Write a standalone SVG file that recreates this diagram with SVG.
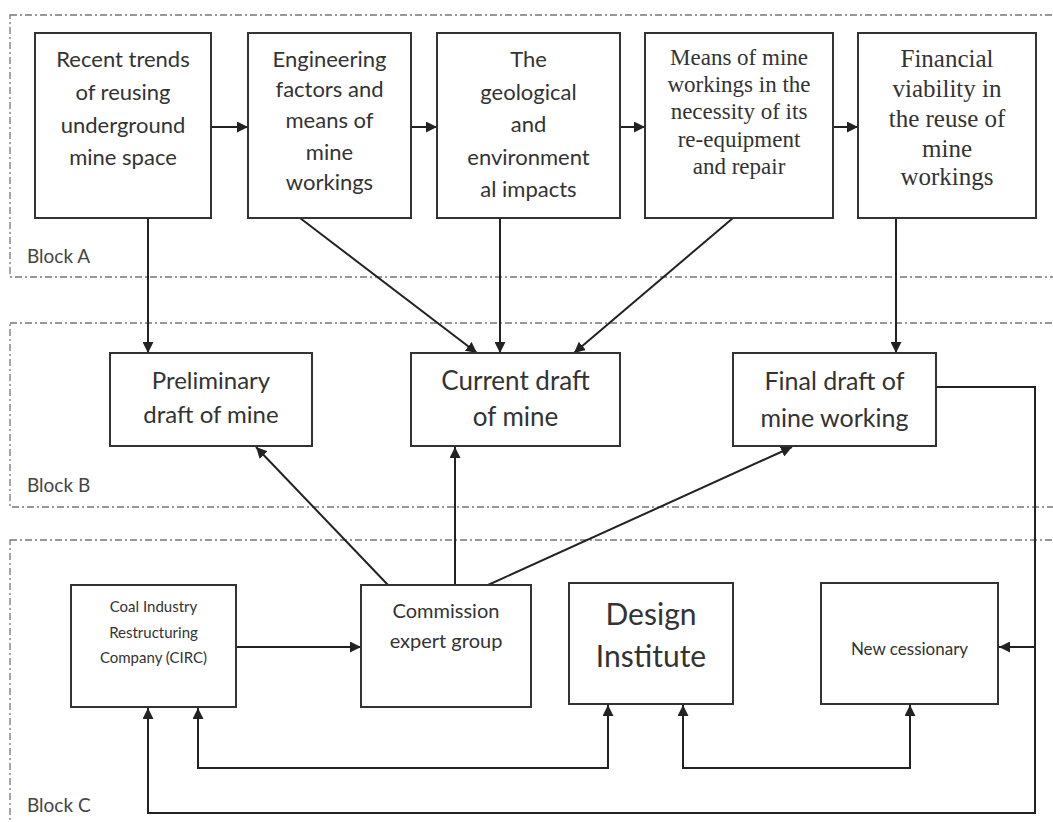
<svg xmlns="http://www.w3.org/2000/svg" width="1053" height="822" viewBox="0 0 1053 822">
<style>
.blk{fill:none;stroke:#777;stroke-width:1.3;stroke-dasharray:7 3 2 3}
.box{fill:#fff;stroke:#333;stroke-width:2}
.ln{fill:none;stroke:#222;stroke-width:2}
.s{font-family:Lato,"Liberation Sans",sans-serif;fill:#333;text-anchor:middle}
.r{font-family:"Liberation Serif",serif;fill:#333;text-anchor:middle}
.lab{font-family:Lato,"Liberation Sans",sans-serif;fill:#444;font-size:19px}
</style>
<defs>
<marker id="ah" viewBox="0 0 10 10" refX="10" refY="5" markerWidth="11" markerHeight="11" markerUnits="userSpaceOnUse" orient="auto">
<path d="M0,0 L10,5 L0,10 z" fill="#222"/>
</marker>
</defs>
<g id="blocks">
<rect class="blk" x="10" y="15" width="1060" height="262"/>
<text class="lab" x="27" y="263">Block A</text>
<rect class="blk" x="10" y="323" width="1060" height="184"/>
<text class="lab" x="27" y="492">Block B</text>
<rect class="blk" x="10" y="540" width="1060" height="300"/>
<text class="lab" x="27" y="812">Block C</text>
</g>
<g id="connectors">
<line class="ln" x1="212" y1="127" x2="248" y2="127" marker-end="url(#ah)"/>
<line class="ln" x1="411" y1="127" x2="437" y2="127" marker-end="url(#ah)"/>
<line class="ln" x1="620" y1="127" x2="645" y2="127" marker-end="url(#ah)"/>
<line class="ln" x1="833" y1="127" x2="858" y2="127" marker-end="url(#ah)"/>
<line class="ln" x1="148" y1="218" x2="148" y2="353" marker-end="url(#ah)"/>
<line class="ln" x1="300" y1="218" x2="477" y2="353" marker-end="url(#ah)"/>
<line class="ln" x1="500" y1="218" x2="500" y2="353" marker-end="url(#ah)"/>
<line class="ln" x1="733" y1="218" x2="574" y2="353" marker-end="url(#ah)"/>
<line class="ln" x1="896" y1="218" x2="896" y2="353" marker-end="url(#ah)"/>
<line class="ln" x1="388" y1="585" x2="256" y2="447" marker-end="url(#ah)"/>
<line class="ln" x1="455" y1="585" x2="455" y2="447" marker-end="url(#ah)"/>
<line class="ln" x1="488" y1="585" x2="792" y2="447" marker-end="url(#ah)"/>
<line class="ln" x1="236" y1="647" x2="361" y2="647" marker-end="url(#ah)"/>
<polyline class="ln" points="936,387 1035,387 1035,813 148,813 148,708" marker-end="url(#ah)"/>
<line class="ln" x1="1035" y1="647" x2="999" y2="647" marker-end="url(#ah)"/>
<polyline class="ln" points="608,768 198,768 198,708" marker-end="url(#ah)"/>
<polyline class="ln" points="198,768 608,768 608,705" marker-end="url(#ah)"/>
<polyline class="ln" points="910,768 683,768 683,705" marker-end="url(#ah)"/>
<polyline class="ln" points="683,768 910,768 910,705" marker-end="url(#ah)"/>
</g>
<g id="a1">
<rect class="box" x="35" y="33" width="176" height="185"/>
<text class="s" font-size="22" x="123" y="67">Recent trends</text>
<text class="s" font-size="22" x="123" y="100">of reusing</text>
<text class="s" font-size="22" x="123" y="133">underground</text>
<text class="s" font-size="22" x="123" y="165">mine space</text>
</g>
<g id="a2">
<rect class="box" x="248" y="33" width="163" height="185"/>
<text class="s" font-size="22" x="329.5" y="67">Engineering</text>
<text class="s" font-size="22" x="329.5" y="97">factors and</text>
<text class="s" font-size="22" x="329.5" y="128">means of</text>
<text class="s" font-size="22" x="329.5" y="160">mine</text>
<text class="s" font-size="22" x="329.5" y="190">workings</text>
</g>
<g id="a3">
<rect class="box" x="437" y="33" width="183" height="185"/>
<text class="s" font-size="22" x="528.5" y="67">The</text>
<text class="s" font-size="22" x="528.5" y="100">geological</text>
<text class="s" font-size="22" x="528.5" y="132">and</text>
<text class="s" font-size="22" x="528.5" y="165">environment</text>
<text class="s" font-size="22" x="528.5" y="197">al impacts</text>
</g>
<g id="a4">
<rect class="box" x="645" y="33" width="188" height="185"/>
<text class="r" font-size="23" x="739" y="65">Means of mine</text>
<text class="r" font-size="23" x="739" y="92">workings in the</text>
<text class="r" font-size="23" x="739" y="119">necessity of its</text>
<text class="r" font-size="23" x="739" y="147">re-equipment</text>
<text class="r" font-size="23" x="739" y="174">and repair</text>
</g>
<g id="a5">
<rect class="box" x="858" y="33" width="178" height="185"/>
<text class="r" font-size="25" x="947" y="67">Financial</text>
<text class="r" font-size="25" x="947" y="97">viability in</text>
<text class="r" font-size="25" x="947" y="127">the reuse of</text>
<text class="r" font-size="25" x="947" y="157">mine</text>
<text class="r" font-size="25" x="947" y="185">workings</text>
</g>
<g id="b1">
<rect class="box" x="110" y="353" width="202" height="93"/>
<text class="s" font-size="24" x="211" y="389">Preliminary</text>
<text class="s" font-size="24" x="211" y="423">draft of mine</text>
</g>
<g id="b2">
<rect class="box" x="411" y="353" width="209" height="93"/>
<text class="s" font-size="26" x="515.5" y="390">Current draft</text>
<text class="s" font-size="26" x="515.5" y="426">of mine</text>
</g>
<g id="b3">
<rect class="box" x="733" y="353" width="203" height="93"/>
<text class="s" font-size="25" x="834.5" y="390">Final draft of</text>
<text class="s" font-size="25" x="834.5" y="427">mine working</text>
</g>
<g id="c1">
<rect class="box" x="71" y="585" width="165" height="122"/>
<text class="s" font-size="15" x="153.5" y="612">Coal Industry</text>
<text class="s" font-size="15" x="153.5" y="638">Restructuring</text>
<text class="s" font-size="15" x="153.5" y="663">Company (CIRC)</text>
</g>
<g id="c2">
<rect class="box" x="361" y="585" width="170" height="122"/>
<text class="s" font-size="20" x="446" y="618">Commission</text>
<text class="s" font-size="20" x="446" y="648">expert group</text>
</g>
<g id="c3">
<rect class="box" x="569" y="583" width="164" height="121"/>
<text class="s" font-size="30" x="651" y="625">Design</text>
<text class="s" font-size="30" x="651" y="667">Institute</text>
</g>
<g id="c4">
<rect class="box" x="821" y="583" width="177" height="121"/>
<text class="s" font-size="17" x="909.5" y="655">New cessionary</text>
</g>
</svg>
